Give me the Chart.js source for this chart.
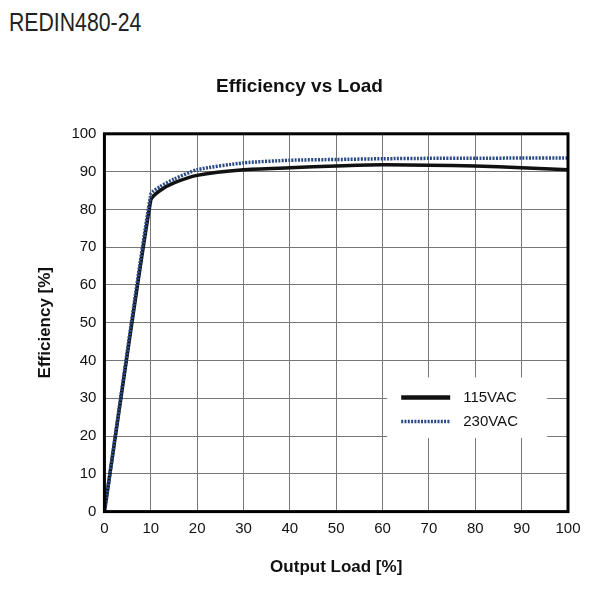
<!DOCTYPE html>
<html><head><meta charset="utf-8">
<script src="https://cdn.jsdelivr.net/npm/chart.js@4/dist/chart.umd.min.js"></script>
<style>
body{margin:0;background:#fff;width:600px;height:594px;position:relative;font-family:"Liberation Sans",Arial,sans-serif;}
#hdr{position:absolute;left:9px;top:8px;font-size:25px;font-weight:300;color:#222;transform:scaleX(0.85);transform-origin:left;}
#wrap{position:absolute;left:0;top:60px;width:600px;height:534px;}
</style></head><body>
<div id="hdr">REDIN480-24</div>
<div id="wrap"><canvas id="c"></canvas></div>
<script>
const loads=[0,10,12,15,20,30,40,50,60,70,80,90,100];
const eff115=[0,82.5,85,87,89,90.5,91,91.5,91.8,91.7,91.5,91,90.5];
const eff230=[0,84,86,88,90.5,92.3,93,93.2,93.4,93.5,93.5,93.6,93.6];
const xTicks=[0,10,20,30,40,50,60,70,80,90,100];
const names=['115VAC','230VAC'];
const pts=(a)=>loads.map((x,i)=>({x,y:a[i]}));
const F='"Liberation Sans", Arial';
const legendPlugin={id:'lg',afterDatasetsDraw(ch){
  const {ctx,scales:{x,y}}=ch;
  const l=x.getPixelForValue(61),t=y.getPixelForValue(35.5),r=x.getPixelForValue(95.5),b=y.getPixelForValue(19.5);
  ctx.save();ctx.fillStyle='#fff';ctx.fillRect(l,t,r-l,b-t);
  [1,0].forEach((di,i)=>{
    const d=ch.data.datasets[di];
    const yy=t+20+i*24;
    ctx.strokeStyle=d.borderColor;ctx.lineWidth=i?3.5:4.5;ctx.setLineDash(i?[2,1.3]:[]);
    ctx.beginPath();ctx.moveTo(l+14,yy);ctx.lineTo(l+63,yy);ctx.stroke();
    ctx.setLineDash([]);ctx.fillStyle='#111';ctx.font='15px '+F;ctx.textBaseline='middle';
    ctx.fillText(names[i],l+76,yy);
  });
  ctx.strokeStyle='#000';ctx.lineWidth=3;ctx.strokeRect(x.left,y.top,x.right-x.left,y.bottom-y.top);
  ctx.restore();}};
new Chart(document.getElementById('c'),{type:'line',
data:{datasets:[
 {label:names[1],data:pts(eff230),borderColor:'#2a4a86',borderWidth:3.5,borderDash:[2,1.3],pointRadius:0,tension:0.2},
 {label:names[0],data:pts(eff115),borderColor:'#111',borderWidth:3.5,pointRadius:0,tension:0.2}
]},
options:{responsive:true,maintainAspectRatio:false,animation:false,
 layout:{padding:{left:31,right:32,top:5,bottom:12}},
 plugins:{legend:{display:false},tooltip:{enabled:false},
  title:{display:true,text:'Efficiency vs Load',color:'#111',font:{family:F,size:19,weight:'bold'},padding:{top:10,bottom:36}}},
 scales:{
  x:{type:'linear',min:0,max:100,afterBuildTicks:a=>{a.ticks=xTicks.map(v=>({value:v}))},
   grid:{color:'#777',lineWidth:1,drawTicks:false},border:{display:false},
   ticks:{color:'#111',padding:8,font:{family:F,size:15}},
   title:{display:true,text:'Output Load [%]',color:'#111',font:{family:F,size:17,weight:'bold'},padding:{top:12}}},
  y:{min:0,max:100,ticks:{stepSize:10,color:'#111',padding:8,font:{family:F,size:15}},
   grid:{color:'#777',lineWidth:1,drawTicks:false},border:{display:false},
   title:{display:true,text:'Efficiency [%]',color:'#111',font:{family:F,size:17,weight:'bold'},padding:{bottom:8}}}
 }},
plugins:[legendPlugin]});
</script></body></html>
